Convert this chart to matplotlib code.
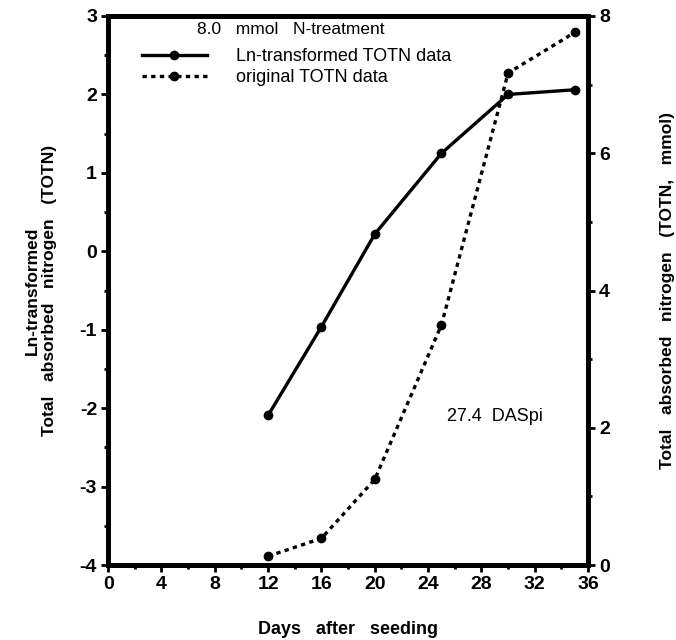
import matplotlib.pyplot as plt
from matplotlib.ticker import MultipleLocator
from matplotlib.lines import Line2D

plt.rcParams['font.family'] = ['Liberation Sans', 'DejaVu Sans']
plt.rcParams['font.weight'] = 'bold'
plt.rcParams['axes.unicode_minus'] = False

days = [12, 16, 20, 25, 30, 35]
ln_totn = [-2.09, -0.96, 0.22, 1.25, 2.0, 2.06]
totn = [0.13, 0.39, 1.25, 3.5, 7.17, 7.76]

fig = plt.figure(figsize=(6.76, 6.4), dpi=100)
ax = fig.add_axes([0.16, 0.117, 0.71, 0.858])
ax2 = ax.twinx()

ax.plot(days, ln_totn, color='black', lw=2.4, marker='o', ms=6)
ax2.plot(days, totn, color='black', lw=2.4, ls=(0, (1.3, 1.3)), marker='o', ms=6)

ax.set_xlim(0, 36)
ax.set_ylim(-4, 3)
ax2.set_ylim(0, 8)

ax.xaxis.set_major_locator(MultipleLocator(4))
ax.xaxis.set_minor_locator(MultipleLocator(2))
ax.yaxis.set_major_locator(MultipleLocator(1))
ax.yaxis.set_minor_locator(MultipleLocator(0.5))
ax2.yaxis.set_major_locator(MultipleLocator(2))
ax2.yaxis.set_minor_locator(MultipleLocator(1))

for a in (ax, ax2):
    for s in a.spines.values():
        s.set_linewidth(3.5)
    a.tick_params(which='major', length=5, width=2, labelsize=14, pad=3)
    a.tick_params(which='minor', length=3, width=2)
    for lbl in a.get_xticklabels() + a.get_yticklabels():
        lbl.set_fontweight('bold')

ax.set_xlabel('Days   after   seeding', fontsize=13, fontweight='bold', labelpad=20)
ax.set_ylabel('Ln-transformed\nTotal   absorbed   nitrogen   (TOTN)', fontsize=12.5,
              fontweight='bold', labelpad=16, multialignment='center')
ax2.set_ylabel('Total   absorbed   nitrogen   (TOTN,   mmol)', fontsize=12.5,
               fontweight='bold', labelpad=36)

ax.text(0.38, 0.975, '8.0   mmol   N-treatment', transform=ax.transAxes,
        fontsize=12.5, fontweight='normal', va='center', ha='center')
handles = [Line2D([], [], color='black', lw=2.4, marker='o', ms=6),
           Line2D([], [], color='black', lw=2.4, ls=(0, (1.3, 1.3)), marker='o', ms=6)]
ax.legend(handles, ['Ln-transformed TOTN data', 'original TOTN data'],
          loc='upper left', bbox_to_anchor=(0.055, 0.955), frameon=False,
          prop={'size': 13, 'weight': 'normal'}, handlelength=3.6, handletextpad=1.6,
          borderaxespad=0, labelspacing=0.25)
ax.text(25.4, -2.1, '27.4  DASpi', fontsize=13, fontweight='normal', va='center')

fig.savefig('out.png', dpi=100)
